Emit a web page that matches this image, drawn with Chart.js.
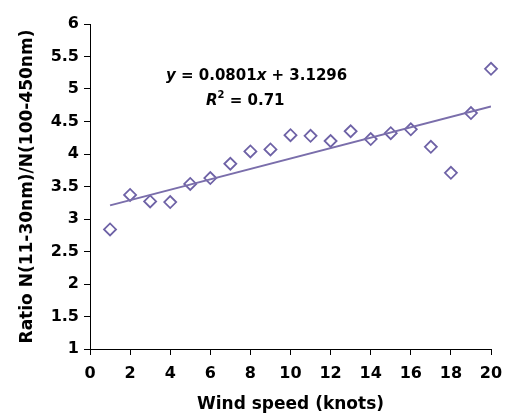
<!DOCTYPE html>
<html>
<head>
<meta charset="utf-8">
<script src="https://cdn.jsdelivr.net/npm/chart.js@4"></script>
<style>
  html, body { margin: 0; padding: 0; background: #fff; }
  #wrap { width: 509px; height: 417px; position: relative; }
</style>
</head>
<body>
<div id="wrap"><canvas id="windChart"></canvas></div>
<script>
// wind speed (knots) and size ratio
const windSpeed = [1, 2, 3, 4, 5, 6, 7, 8, 9, 10, 11, 12, 13, 14, 15, 16, 17, 18, 19, 20];
const ratio = [2.84, 3.37, 3.27, 3.26, 3.54, 3.63, 3.85, 4.04, 4.07, 4.29, 4.28, 4.2, 4.35, 4.23, 4.32, 4.38, 4.11, 3.71, 4.63, 5.31];

// fitted line printed on the figure
const fitSlope = 0.0801;
const fitIntercept = 3.1296;
const fitRange = [1, 20];

const xTicks = [0, 2, 4, 6, 8, 10, 12, 14, 16, 18, 20];
const yTicks = [1, 1.5, 2, 2.5, 3, 3.5, 4, 4.5, 5, 5.5, 6];

const purple = '#6e62a6';
const lineColor = '#7a6eab';
const tickFont = { family: 'DejaVu Sans', size: 16, weight: 'bold' };
const titleFont = { family: 'DejaVu Sans', size: 17, weight: 'bold' };

const points = windSpeed.map((w, i) => ({ x: w, y: ratio[i] }));
const fitLine = fitRange.map(w => ({ x: w, y: fitSlope * w + fitIntercept }));

// equation text drawn over the plot
const equationLabel = {
  id: 'equationLabel',
  afterDatasetsDraw(chart) {
    const ctx = chart.ctx;
    ctx.save();
    ctx.fillStyle = '#000';
    ctx.textBaseline = 'middle';
    ctx.textAlign = 'left';
    const parts = [
      ['italic bold 15px "DejaVu Sans"', 'y'],
      ['bold 15px "DejaVu Sans"', ' = 0.0801'],
      ['italic bold 15px "DejaVu Sans"', 'x'],
      ['bold 15px "DejaVu Sans"', ' + 3.1296']
    ];
    let x = 166;
    parts.forEach(([f, t]) => {
      ctx.font = f;
      ctx.fillText(t, x, 76);
      x += ctx.measureText(t).width;
    });
    x = 206;
    ctx.font = 'italic bold 15px "DejaVu Sans"';
    ctx.fillText('R', x, 101);
    x += ctx.measureText('R').width;
    ctx.font = 'bold 10px "DejaVu Sans"';
    ctx.fillText('2', x, 95);
    x += ctx.measureText('2').width;
    ctx.font = 'bold 15px "DejaVu Sans"';
    ctx.fillText(' = 0.71', x, 101);
    ctx.restore();
  }
};

new Chart(document.getElementById('windChart').getContext('2d'), {
  type: 'scatter',
  data: {
    datasets: [
      {
        type: 'line',
        data: fitLine,
        borderColor: lineColor,
        borderWidth: 2,
        pointRadius: 0,
        fill: false
      },
      {
        data: points,
        clip: false,
        pointStyle: 'rectRot',
        pointRadius: 6,
        pointBorderWidth: 1.8,
        pointBorderColor: purple,
        pointBackgroundColor: '#fff'
      }
    ]
  },
  options: {
    responsive: true,
    maintainAspectRatio: false,
    animation: false,
    layout: { padding: { top: 24, right: 18, bottom: 0, left: 0 } },
    plugins: {
      legend: { display: false },
      tooltip: { enabled: false }
    },
    scales: {
      x: {
        type: 'linear',
        min: 0,
        max: 20,
        afterFit: s => { s.height = 68; s.paddingLeft = 0; s.paddingRight = 0; },
        afterBuildTicks: s => { s.ticks = xTicks.map(v => ({ value: v })); },
        ticks: { font: tickFont, color: '#000', padding: 9, maxRotation: 0, callback: v => String(v) },
        grid: { drawOnChartArea: false, tickLength: 6, color: '#000' },
        border: { color: '#000', width: 1 },
        title: {
          display: true,
          text: 'Wind speed (knots)',
          font: titleFont,
          color: '#000',
          padding: { top: 0, bottom: 2 }
        }
      },
      y: {
        type: 'linear',
        min: 1,
        max: 6,
        afterFit: s => { s.width = 90; s.paddingTop = 0; s.paddingBottom = 0; },
        afterBuildTicks: s => { s.ticks = yTicks.map(v => ({ value: v })); },
        ticks: { font: tickFont, color: '#000', padding: 5, callback: v => String(v) },
        grid: { drawOnChartArea: false, tickLength: 6, color: '#000' },
        border: { color: '#000', width: 1 },
        title: {
          display: true,
          text: 'Ratio N(11-30nm)/N(100-450nm)',
          font: titleFont,
          color: '#000',
          padding: { top: 17, bottom: 0 }
        }
      }
    }
  },
  plugins: [equationLabel]
});
</script>
</body>
</html>
